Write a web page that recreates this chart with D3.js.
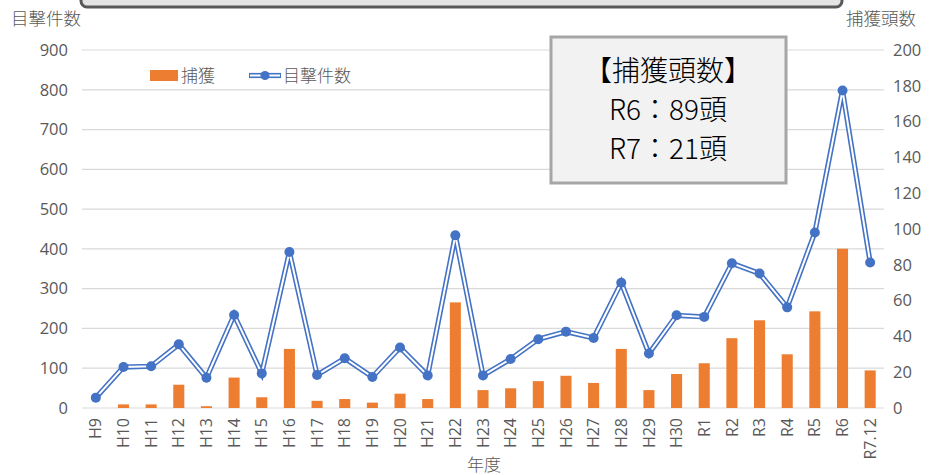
<!DOCTYPE html>
<html>
<head>
<meta charset="utf-8">
<script src="https://cdn.jsdelivr.net/npm/d3@7"></script>
<style>
  body { margin: 0; background: #fff; }
  text { font-family: "Noto Sans CJK JP", sans-serif; }
</style>
</head>
<body>
<script>
// years (H = 平成, R = 令和)
var years = ["H9","H10","H11","H12","H13","H14","H15","H16","H17","H18","H19","H20","H21","H22",
  "H23","H24","H25","H26","H27","H28","H29","H30","R1","R2","R3","R4","R5","R6","R7.12"];
// 捕獲 (bars, right axis)
var captures = [0,2,2,13,1,17,6,33,4,5,3,8,5,59,10,11,15,18,14,33,10,19,25,39,49,30,54,89,21];
// 目撃件数 (line, left axis)
var sightings = [26,103,105,160,76,234,87,392,83,125,78,152,82,434,82,123,173,192,176,315,137,233,229,364,338,253,441,798,366];
var leftTicks = [0,100,200,300,400,500,600,700,800,900];
var rightTicks = [0,20,40,60,80,100,120,140,160,180,200];

var W = 944, H = 475;
var plotL = 82, plotR = 884, plotT = 50, plotB = 408;
var ORANGE = "#ed7d31", BLUE = "#4472c4", GRAY = "#595959";

var svg = d3.select("body").append("svg")
  .attr("width", W).attr("height", H);

var x = d3.scaleBand().domain(years).range([plotL, plotR]).paddingInner(0.6).paddingOuter(0.3);
var xc = function(d) { return x(d) + x.bandwidth() / 2; };
var yL = d3.scaleLinear().domain([0, 900]).range([plotB, plotT]);
var yR = d3.scaleLinear().domain([0, 200]).range([plotB, plotT]);

// cut-off box at the very top
svg.append("rect")
  .attr("x", 81).attr("y", -30).attr("width", 761).attr("height", 37).attr("rx", 6)
  .style("fill", "#e4e4e4").style("stroke", GRAY).style("stroke-width", 3);

// gridlines
svg.append("g").selectAll("line").data(leftTicks).enter().append("line")
  .attr("x1", plotL).attr("x2", plotR)
  .attr("y1", function(d) { return yL(d); }).attr("y2", function(d) { return yL(d); })
  .style("stroke", "#d9d9d9").style("stroke-width", 1.2);

// left axis
var axL = svg.append("g").attr("transform", "translate(" + (plotL - 12) + ",0)")
  .call(d3.axisLeft(yL).tickValues(leftTicks).tickSize(0).tickPadding(2));
axL.select(".domain").remove();
axL.selectAll("text").style("font-size", "16.5px").style("fill", GRAY)
  .style("font-family", "'Open Sans', sans-serif");

// right axis
var axR = svg.append("g").attr("transform", "translate(" + (plotR + 7) + ",0)")
  .call(d3.axisRight(yR).tickValues(rightTicks).tickSize(0).tickPadding(2));
axR.select(".domain").remove();
axR.selectAll("text").style("font-size", "16.5px").style("fill", GRAY)
  .style("font-family", "'Open Sans', sans-serif");

// x axis (rotated labels)
var axX = svg.append("g").attr("transform", "translate(0," + plotB + ")")
  .call(d3.axisBottom(x).tickSize(0).tickPadding(0));
axX.select(".domain").remove();
axX.selectAll("text")
  .attr("transform", "rotate(-90)")
  .attr("x", -10).attr("y", 0).attr("dy", "0.35em")
  .style("text-anchor", "end")
  .style("font-size", "16px").style("fill", GRAY)
  .style("font-family", "'Open Sans', sans-serif");

// bars
svg.append("g").selectAll("rect").data(captures).enter().append("rect")
  .attr("x", function(d, i) { return x(years[i]); })
  .attr("width", x.bandwidth())
  .attr("y", function(d) { return yR(d); })
  .attr("height", function(d) { return plotB - yR(d); })
  .style("fill", ORANGE);

// double line
var line = d3.line()
  .x(function(d, i) { return xc(years[i]); })
  .y(function(d) { return yL(d); });
svg.append("path").datum(sightings).attr("d", line)
  .style("fill", "none").style("stroke", BLUE).style("stroke-width", 5.2).style("stroke-linejoin", "miter");
svg.append("path").datum(sightings).attr("d", line)
  .style("fill", "none").style("stroke", "#fff").style("stroke-width", 2).style("stroke-linejoin", "miter");
svg.append("g").selectAll("circle").data(sightings).enter().append("circle")
  .attr("cx", function(d, i) { return xc(years[i]); })
  .attr("cy", function(d) { return yL(d); })
  .attr("r", 5)
  .style("fill", BLUE);

// axis titles
svg.append("text").attr("x", 11).attr("y", 25).text("目撃件数")
  .style("font-size", "17.5px").style("font-weight", 300).style("fill", GRAY);
svg.append("text").attr("x", 916).attr("y", 25).attr("text-anchor", "end").text("捕獲頭数")
  .style("font-size", "17.5px").style("font-weight", 300).style("fill", GRAY);
svg.append("text").attr("x", 484).attr("y", 471).attr("text-anchor", "middle").text("年度")
  .style("font-size", "17px").style("font-weight", 300).style("fill", GRAY);

// legend
var lg = svg.append("g");
lg.append("rect").attr("x", 150).attr("y", 70).attr("width", 28).attr("height", 11).style("fill", ORANGE);
lg.append("text").attr("x", 181).attr("y", 82).text("捕獲")
  .style("font-size", "17px").style("font-weight", 300).style("fill", GRAY);
lg.append("line").attr("x1", 249).attr("x2", 281).attr("y1", 75.5).attr("y2", 75.5)
  .style("stroke", BLUE).style("stroke-width", 5.2);
lg.append("line").attr("x1", 250).attr("x2", 280).attr("y1", 75.5).attr("y2", 75.5)
  .style("stroke", "#fff").style("stroke-width", 2);
lg.append("circle").attr("cx", 265).attr("cy", 75.5).attr("r", 4.5).style("fill", BLUE);
lg.append("text").attr("x", 283).attr("y", 82).text("目撃件数")
  .style("font-size", "17px").style("font-weight", 300).style("fill", GRAY);

// annotation box
var nb = svg.append("g");
nb.append("rect").attr("x", 551).attr("y", 37).attr("width", 235).attr("height", 146)
  .style("fill", "#f2f2f2").style("stroke", "#a6a6a6").style("stroke-width", 3);
var noteLines = ["【捕獲頭数】", "R6：89頭", "R7：21頭"];
nb.selectAll("text").data(noteLines).enter().append("text")
  .attr("x", 668).attr("y", function(d, i) { return 81 + i * 39; })
  .attr("text-anchor", "middle")
  .text(function(d) { return d; })
  .style("font-size", "28px").style("font-weight", 300).style("fill", "#000");
</script>
</body>
</html>
